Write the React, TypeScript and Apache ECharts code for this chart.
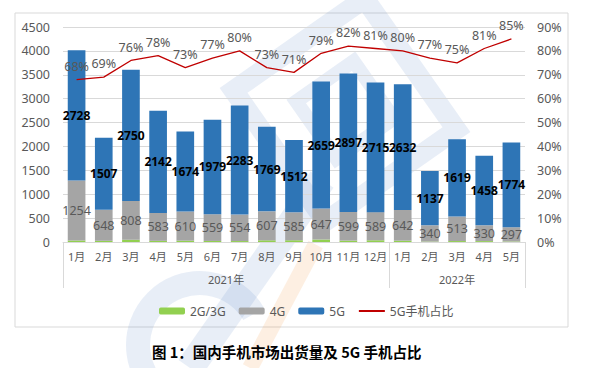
import React, { useEffect, useRef } from "react";
import * as echarts from "echarts";

const months = ["1月","2月","3月","4月","5月","6月","7月","8月","9月","10月","11月","12月","1月","2月","3月","4月","5月"];
const yearLabels = ["2021年", "2022年"];
const g23 = [31, 25, 49, 24, 28, 22, 20, 35, 36, 52, 29, 36, 28, 9, 20, 19, 10];
const g4 = [1254, 648, 808, 583, 610, 559, 554, 607, 585, 647, 599, 589, 642, 340, 513, 330, 297];
const g5 = [2728, 1507, 2750, 2142, 1674, 1979, 2283, 1769, 1512, 2659, 2897, 2715, 2632, 1137, 1619, 1458, 1774];
const share5g = [68, 69, 76, 78, 73, 77, 80, 73, 71, 79, 82, 81, 80, 77, 75, 81, 85];

const FONT = "'Noto Sans', 'Noto Sans CJK SC', sans-serif";
const WM = "rgba(80,120,190,0.13)";

export default function App() {
  const ref = useRef<HTMLDivElement>(null);
  useEffect(() => {
    if (!ref.current) return;
    const chart = echarts.init(ref.current, null, { renderer: "svg" });
    const deg = (d: number) => (d * Math.PI) / 180;
    chart.setOption({
      animation: false,
      textStyle: { fontFamily: FONT },
      title: {
        text: "图 1：国内手机市场出货量及 5G 手机占比",
        left: 147,
        top: 339,
        textStyle: { fontSize: 14.5, fontWeight: "bold", color: "#000", fontFamily: "'Noto Sans CJK SC', sans-serif" },
      },
      graphic: [
        {
          type: "rect",
          shape: { x: 15, y: 13, width: 553, height: 314 },
          style: { fill: "none", stroke: "#D9D9D9", lineWidth: 1 },
          silent: true,
        },
        {
          type: "group",
          z: 100,
          silent: true,
          children: [
            {
              type: "arc",
              shape: { cx: 200, cy: 345, r: 62, startAngle: deg(120), endAngle: deg(330) },
              style: { stroke: WM, lineWidth: 24, fill: "none" },
            },
            {
              type: "rect",
              x: 190,
              y: 368,
              rotation: deg(55),
              shape: { x: 0, y: -14, width: 230, height: 28 },
              style: { fill: WM },
            },
            {
              type: "rect",
              x: 250,
              y: 368,
              rotation: deg(62),
              shape: { x: 0, y: -8, width: 140, height: 16 },
              style: { fill: "rgba(240,150,60,0.15)" },
            },
            {
              type: "group",
              x: 345,
              y: 110,
              rotation: deg(35),
              children: [
                { type: "rect", shape: { x: -80, y: -80, width: 160, height: 160 }, style: { fill: "none", stroke: WM, lineWidth: 20 } },
                { type: "rect", shape: { x: -35, y: -35, width: 70, height: 70 }, style: { fill: "none", stroke: WM, lineWidth: 14 } },
              ],
            },
          ],
        },
      ],
      legend: {
        top: 300,
        left: 154,
        itemWidth: 26,
        itemHeight: 7,
        itemGap: 13,
        textStyle: { color: "#595959", fontSize: 12 },
        data: ["2G/3G", "4G", "5G", { name: "5G手机占比", itemStyle: { opacity: 0 } }],
      },
      grid: { left: 63, right: 85, top: 27, bottom: 126 },
      xAxis: [
        {
          type: "category",
          data: months,
          axisLine: { lineStyle: { color: "#D9D9D9" } },
          axisTick: { show: false },
          axisLabel: { color: "#595959", fontSize: 11, margin: 9, interval: 0 },
        },
        {
          type: "value",
          position: "bottom",
          min: 0,
          max: 17,
          axisLine: { show: false },
          splitLine: { show: false },
          axisTick: { show: true, customValues: [0, 12, 17], length: 46, lineStyle: { color: "#D9D9D9" } },
          axisLabel: {
            customValues: [6, 14.5],
            margin: 32,
            color: "#595959",
            fontSize: 11,
            formatter: (v: number) => (v < 12 ? yearLabels[0] : yearLabels[1]),
          },
        },
      ],
      yAxis: [
        {
          type: "value",
          min: 0,
          max: 4500,
          interval: 500,
          axisLine: { show: false },
          axisTick: { show: false },
          splitLine: { lineStyle: { color: "#D9D9D9" } },
          axisLabel: { color: "#595959", fontSize: 12.5, margin: 13, formatter: (v: number) => String(v) },
        },
        {
          type: "value",
          min: 0,
          max: 90,
          interval: 10,
          axisLine: { show: false },
          axisTick: { show: false },
          splitLine: { show: false },
          axisLabel: { color: "#595959", fontSize: 12.5, margin: 12, formatter: "{value}%" },
        },
      ],
      series: [
        {
          name: "2G/3G",
          type: "bar",
          stack: "t",
          data: g23,
          barCategoryGap: "35%",
          itemStyle: { color: "#92D050" },
        },
        {
          name: "4G",
          type: "bar",
          stack: "t",
          data: g4,
          barCategoryGap: "35%",
          itemStyle: { color: "#A5A5A5" },
          label: { show: true, position: "inside", color: "#595959", fontSize: 12.5 },
        },
        {
          name: "5G",
          type: "bar",
          stack: "t",
          data: g5,
          barCategoryGap: "35%",
          itemStyle: { color: "#2E75B6" },
          label: { show: true, position: "inside", color: "#000", fontSize: 12, fontWeight: "bold" },
        },
        {
          name: "5G手机占比",
          type: "line",
          yAxisIndex: 1,
          data: share5g,
          symbol: "circle",
          symbolSize: 0.01,
          showSymbol: true,
          lineStyle: { color: "#C00000", width: 1.3 },
          itemStyle: { color: "#C00000" },
          label: { show: true, position: "top", distance: 7, color: "#595959", fontSize: 12.5, formatter: "{c}%" },
        },
      ],
    });
    return () => chart.dispose();
  }, []);
  return <div ref={ref} style={{ position: "fixed", left: 0, top: 0, width: 610, height: 368, background: "#fff" }} />;
}
